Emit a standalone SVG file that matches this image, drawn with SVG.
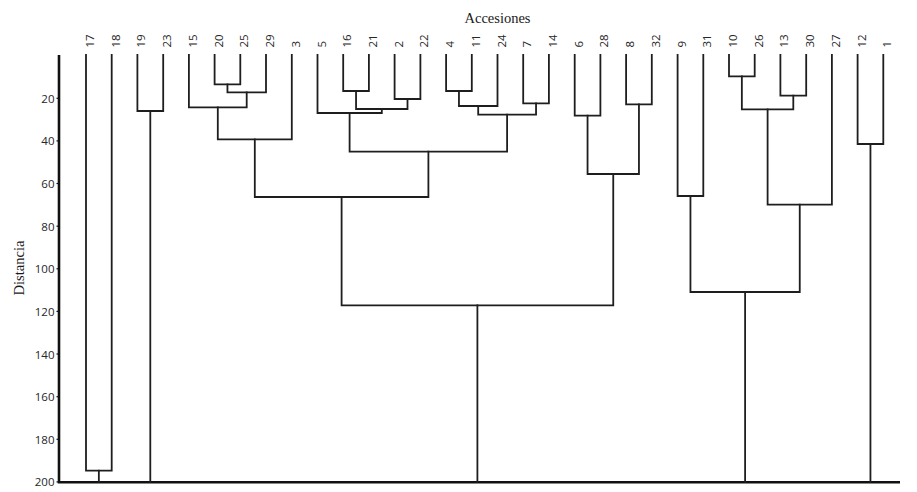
<svg xmlns="http://www.w3.org/2000/svg" width="917" height="492" viewBox="0 0 917 492">
<style>
.bg{fill:#ffffff}
.axis{stroke:#111;stroke-width:2.6;fill:none}
.tick{stroke:#111;stroke-width:1.2}
.br{stroke:#1e1e1e;stroke-width:1.8;fill:none;stroke-linejoin:miter;stroke-linecap:square}
.tl{font-family:"Open Sans","Noto Sans",sans-serif;font-size:11.5px;fill:#262626;text-anchor:end;dominant-baseline:central}
.lf{font-family:"Open Sans","Noto Sans",sans-serif;font-size:11.5px;fill:#262626;text-anchor:start}
.ttl{font-family:"Liberation Serif","Times New Roman",serif;font-size:14.5px;fill:#1a1a1a}
</style>
<rect class="bg" x="0" y="0" width="917" height="492"/>
<text class="ttl" x="497.5" y="22.5" text-anchor="middle">Accesiones</text>
<g id="axis">
<path class="axis" d="M59 55 V482.3 H900"/>
<text class="ttl" transform="translate(24,268) rotate(-90)" text-anchor="middle">Distancia</text>
<g class="tick">
<line x1="56.5" y1="98.3" x2="59" y2="98.3"/><line x1="56.5" y1="140.9" x2="59" y2="140.9"/>
<line x1="56.5" y1="183.5" x2="59" y2="183.5"/><line x1="56.5" y1="226.2" x2="59" y2="226.2"/>
<line x1="56.5" y1="268.8" x2="59" y2="268.8"/><line x1="56.5" y1="311.4" x2="59" y2="311.4"/>
<line x1="56.5" y1="354.0" x2="59" y2="354.0"/><line x1="56.5" y1="396.7" x2="59" y2="396.7"/>
<line x1="56.5" y1="439.3" x2="59" y2="439.3"/><line x1="56.5" y1="481.9" x2="59" y2="481.9"/>
</g>
<text class="tl" x="54.5" y="98.3">20</text><text class="tl" x="54.5" y="140.9">40</text>
<text class="tl" x="54.5" y="183.5">60</text><text class="tl" x="54.5" y="226.2">80</text>
<text class="tl" x="54.5" y="268.8">100</text><text class="tl" x="54.5" y="311.4">120</text>
<text class="tl" x="54.5" y="354.0">140</text><text class="tl" x="54.5" y="396.7">160</text>
<text class="tl" x="54.5" y="439.3">180</text><text class="tl" x="54.5" y="481.9">200</text>
</g>
<g id="leaves">
<g id="leaf-17"><text class="lf" transform="translate(94,47.5) rotate(-90)">17</text></g>
<g id="leaf-18"><text class="lf" transform="translate(119.7,47.5) rotate(-90)">18</text></g>
<g id="leaf-19"><text class="lf" transform="translate(145.4,47.5) rotate(-90)">19</text></g>
<g id="leaf-23"><text class="lf" transform="translate(171.2,47.5) rotate(-90)">23</text></g>
<g id="leaf-15"><text class="lf" transform="translate(196.9,47.5) rotate(-90)">15</text></g>
<g id="leaf-20"><text class="lf" transform="translate(222.6,47.5) rotate(-90)">20</text></g>
<g id="leaf-25"><text class="lf" transform="translate(248.3,47.5) rotate(-90)">25</text></g>
<g id="leaf-29"><text class="lf" transform="translate(274,47.5) rotate(-90)">29</text></g>
<g id="leaf-3"><text class="lf" transform="translate(299.8,47.5) rotate(-90)">3</text></g>
<g id="leaf-5"><text class="lf" transform="translate(325.5,47.5) rotate(-90)">5</text></g>
<g id="leaf-16"><text class="lf" transform="translate(351.2,47.5) rotate(-90)">16</text></g>
<g id="leaf-21"><text class="lf" transform="translate(376.9,47.5) rotate(-90)">21</text></g>
<g id="leaf-2"><text class="lf" transform="translate(402.6,47.5) rotate(-90)">2</text></g>
<g id="leaf-22"><text class="lf" transform="translate(428.4,47.5) rotate(-90)">22</text></g>
<g id="leaf-4"><text class="lf" transform="translate(454.1,47.5) rotate(-90)">4</text></g>
<g id="leaf-11"><text class="lf" transform="translate(479.8,47.5) rotate(-90)">11</text></g>
<g id="leaf-24"><text class="lf" transform="translate(505.5,47.5) rotate(-90)">24</text></g>
<g id="leaf-7"><text class="lf" transform="translate(531.2,47.5) rotate(-90)">7</text></g>
<g id="leaf-14"><text class="lf" transform="translate(556.9,47.5) rotate(-90)">14</text></g>
<g id="leaf-6"><text class="lf" transform="translate(582.7,47.5) rotate(-90)">6</text></g>
<g id="leaf-28"><text class="lf" transform="translate(608.4,47.5) rotate(-90)">28</text></g>
<g id="leaf-8"><text class="lf" transform="translate(634.1,47.5) rotate(-90)">8</text></g>
<g id="leaf-32"><text class="lf" transform="translate(659.8,47.5) rotate(-90)">32</text></g>
<g id="leaf-9"><text class="lf" transform="translate(685.6,47.5) rotate(-90)">9</text></g>
<g id="leaf-31"><text class="lf" transform="translate(711.3,47.5) rotate(-90)">31</text></g>
<g id="leaf-10"><text class="lf" transform="translate(737,47.5) rotate(-90)">10</text></g>
<g id="leaf-26"><text class="lf" transform="translate(762.7,47.5) rotate(-90)">26</text></g>
<g id="leaf-13"><text class="lf" transform="translate(788.4,47.5) rotate(-90)">13</text></g>
<g id="leaf-30"><text class="lf" transform="translate(814.2,47.5) rotate(-90)">30</text></g>
<g id="leaf-27"><text class="lf" transform="translate(839.9,47.5) rotate(-90)">27</text></g>
<g id="leaf-12"><text class="lf" transform="translate(865.6,47.5) rotate(-90)">12</text></g>
<g id="leaf-1"><text class="lf" transform="translate(891.3,47.5) rotate(-90)">1</text></g>
</g>
<g id="connectors" class="br">
<path d="M86 55 V470.7 H111.7 V55"/>
<path d="M98.85 470.7 V482"/>
<path d="M137.4 55 V111 H163.2 V55"/>
<path d="M150.3 111 V482"/>
<path d="M214.6 55 V84.3 H240.3 V55"/>
<path d="M227.45 84.3 V92.3 H266 V55"/>
<path d="M188.9 55 V107.3 H246.7 V92.3"/>
<path d="M217.8 107.3 V139.3 H291.8 V55"/>
<path d="M343.2 55 V91 H368.9 V55"/>
<path d="M394.6 55 V99 H420.4 V55"/>
<path d="M356.05 91 V109 H407.5 V99"/>
<path d="M317.5 55 V113 H381.8 V109"/>
<path d="M446.1 55 V91 H471.8 V55"/>
<path d="M458.95 91 V106 H497.5 V55"/>
<path d="M523.2 55 V103.3 H548.9 V55"/>
<path d="M478.2 106 V114.7 H536.05 V103.3"/>
<path d="M349.6 113 V151.7 H507.1 V114.7"/>
<path d="M254.8 139.3 V197 H428.4 V151.7"/>
<path d="M574.7 55 V115.7 H600.4 V55"/>
<path d="M626.1 55 V104.3 H651.8 V55"/>
<path d="M587.55 115.7 V174 H638.95 V104.3"/>
<path d="M341.6 197 V305.3 H613.25 V174"/>
<path d="M477.4 305.3 V482"/>
<path d="M677.6 55 V196 H703.3 V55"/>
<path d="M729 55 V76.3 H754.7 V55"/>
<path d="M780.4 55 V95.7 H806.2 V55"/>
<path d="M741.85 76.3 V109.3 H793.3 V95.7"/>
<path d="M767.6 109.3 V204.7 H831.9 V55"/>
<path d="M690.45 196 V292 H799.75 V204.7"/>
<path d="M745.1 292 V482"/>
<path d="M857.6 55 V144 H883.3 V55"/>
<path d="M870.45 144 V482"/>
</g>
</svg>
